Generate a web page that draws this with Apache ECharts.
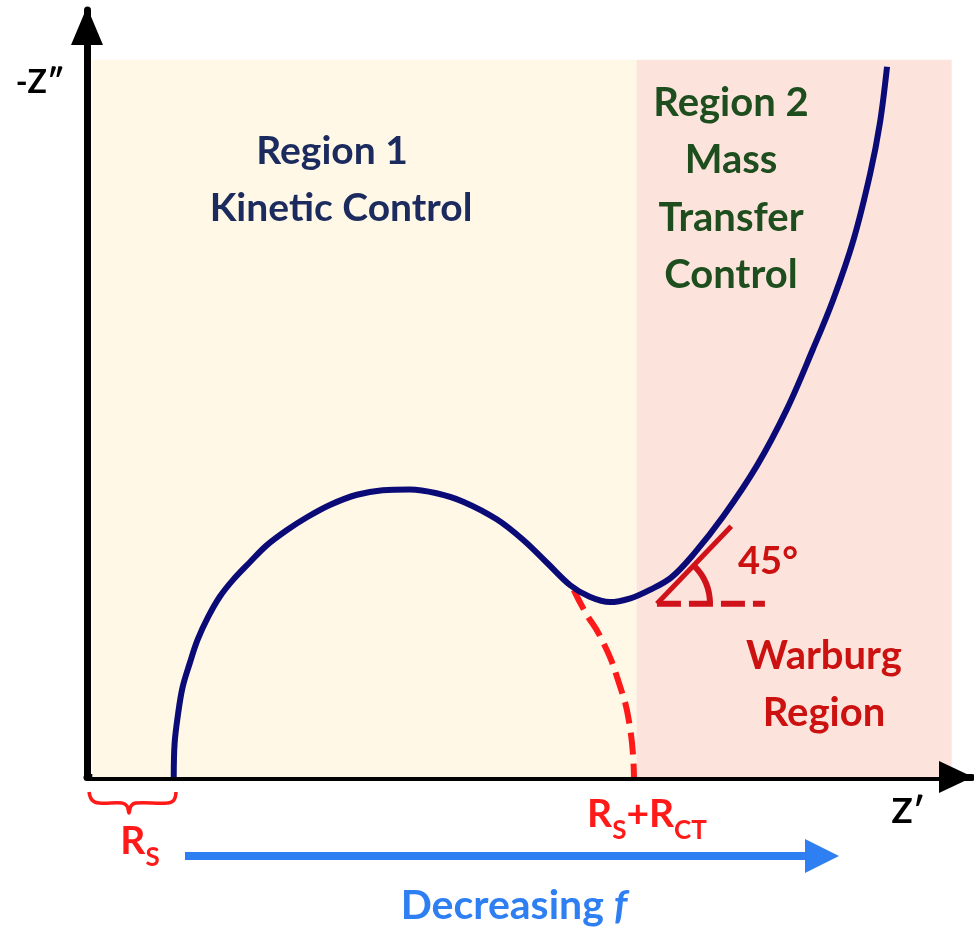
<!DOCTYPE html>
<html><head><meta charset="utf-8">
<script src="https://cdn.jsdelivr.net/npm/echarts@6/dist/echarts.min.js"></script>
<style>html,body{margin:0;padding:0;background:#fff}#c{width:974px;height:930px}</style>
</head><body><div id="c"></div>
<script>
// Nyquist curve (Z', -Z'') in arbitrary units
const curveZre = [9.8, 9.9, 10.3, 10.8, 11.6, 12.5, 13.7, 15.0, 16.5, 18.4, 20.3, 22.6, 24.9, 27.5, 30.5, 33.4, 36.5, 39.5, 42.5, 46.3, 49.3, 52.0, 54.6, 56.8, 59.1, 61.4, 63.6, 66.0, 68.5, 71.9, 75.7, 79.1, 82.0, 84.3, 86.6, 88.5, 89.6, 90.4];
const curveZim = [0.0, 4.4, 8.3, 11.7, 14.8, 17.9, 20.9, 23.5, 25.7, 28.0, 30.2, 32.2, 33.9, 35.5, 36.8, 37.4, 37.5, 37.0, 35.9, 33.6, 30.9, 27.9, 25.0, 23.5, 22.8, 23.3, 24.4, 26.0, 29.0, 34.0, 40.6, 48.0, 55.7, 62.2, 70.0, 78.7, 85.3, 92.6];
// extrapolated semicircle (dashed) down to Rs+Rct
const extrapZre = [55.0, 56.3, 58.0, 59.9, 61.4, 61.8];
const extrapZim = [24.4, 21.5, 18.3, 13.0, 6.1, 0.0];
// 45 degree tangent and horizontal reference
const tangentZre = [64.4, 72.8];
const tangentZim = [22.6, 32.7];
const refZre = [64.4, 76.6];
const refZim = [22.6, 22.6];
// regions
const region1 = [0.6, 62.1];
const region2 = [62.1, 97.7];
const regionTop = 93.5;
const region1Lines = ['Region 1', 'Kinetic Control'];
const region2Lines = ['Region 2', 'Mass', 'Transfer', 'Control'];
const warburgLines = ['Warburg', 'Region'];

const zip = (a, b) => a.map((v, i) => [v, b[i]]);
const FONT = 'Lato, "Open Sans", sans-serif';
const chart = echarts.init(document.getElementById('c'), null, {renderer: 'canvas'});

const gl = 87, gt = 10, gw = 885, gh = 767;
const axisStyle = {show: true, lineStyle: {color: '#000', width: 7}};

chart.setOption({
  animation: false,
  backgroundColor: '#ffffff',
  grid: {left: gl, top: gt, width: gw, height: gh},
  xAxis: {type: 'value', min: 0, max: 100, splitLine: {show: false}, axisTick: {show: false}, axisLabel: {show: false}, axisLine: axisStyle},
  yAxis: {type: 'value', min: 0, max: 100, splitLine: {show: false}, axisTick: {show: false}, axisLabel: {show: false}, axisLine: axisStyle},
  series: [
    {type: 'line', data: [], silent: true, z: 0,
      markArea: {silent: true, data: [
        [{coord: [region1[0], 0], itemStyle: {color: '#FFF8E7'}}, {coord: [region1[1], regionTop]}],
        [{coord: [region2[0], 0], itemStyle: {color: '#FCE4DC'}}, {coord: [region2[1], regionTop]}]
      ]}},
    {type: 'line', data: zip(extrapZre, extrapZim), smooth: true, symbol: 'none', z: 3,
      lineStyle: {color: '#FF1A1A', width: 6, type: [22, 9]}},
    {type: 'line', data: zip(tangentZre, tangentZim), symbol: 'none', z: 3,
      lineStyle: {color: '#D0121A', width: 5}},
    {type: 'line', data: zip(refZre, refZim), symbol: 'none', z: 3,
      lineStyle: {color: '#D0121A', width: 6, type: [24, 8]}},
    {type: 'line', data: zip(curveZre, curveZim), smooth: 0.35, symbol: 'none', z: 4,
      lineStyle: {color: '#0B0B78', width: 6}}
  ]
});

const vtx = chart.convertToPixel({gridIndex: 0}, [refZre[0], refZim[0]]);
const pOrg = chart.convertToPixel({gridIndex: 0}, [0, 0]);
const pTop = chart.convertToPixel({gridIndex: 0}, [0, 100]);
const pRight = chart.convertToPixel({gridIndex: 0}, [100, 0]);
const txt = (text, x, y, size, color) => ({type: 'text', z: 10, style: {text, x, y, font: `bold ${size}px ${FONT}`, fill: color, align: 'center', verticalAlign: 'middle'}});

const g = [];
// axis arrowheads
g.push({type: 'polygon', z: 6, shape: {points: [[pTop[0], pTop[1] - 3], [pTop[0] - 16, pTop[1] + 35], [pTop[0] + 16, pTop[1] + 35]]}, style: {fill: '#000'}});
g.push({type: 'polygon', z: 6, shape: {points: [[pRight[0] + 1, pRight[1]], [pRight[0] - 33, pRight[1] - 16], [pRight[0] - 33, pRight[1] + 16]]}, style: {fill: '#000'}});
g.push(txt(region1Lines[0], 332, 151, 39, '#1C2B5E'));
g.push(txt(region1Lines[1], 341, 208, 39, '#1C2B5E'));
region2Lines.forEach((t, i) => g.push(txt(t, 731, 103 + i * 57.5, 40, '#1E4E1E')));
warburgLines.forEach((t, i) => g.push(txt(t, 824, 656 + i * 57, 40, '#CC1111')));
g.push(txt('45°', 768, 562, 38, '#CC1111'));
g.push(txt('-Z″', 40, 83, 32, '#000'));
g.push(txt('Z′', 908, 812, 35, '#000'));
g.push({type: 'arc', z: 5, shape: {cx: vtx[0], cy: vtx[1], r: 53, startAngle: -Math.PI / 4, endAngle: 0}, style: {stroke: '#D0121A', lineWidth: 6, fill: null}});
// brace for Rs
g.push({type: 'polyline', z: 5, shape: {smooth: 0.4, points: [[pOrg[0] + 2, 792], [pOrg[0] + 5, 800], [pOrg[0] + 12, 803], [122, 803], [127, 806], [129, 813], [131, 806], [136, 803], [168, 803], [174, 800], [176, 792]]}, style: {stroke: '#FF1A1A', lineWidth: 3.5, fill: null}});
const subRich = {r: {font: `bold 39px ${FONT}`, fill: '#FF1A1A', verticalAlign: 'bottom', padding: [0, 0, 10, 0]}, s: {font: `bold 26px ${FONT}`, fill: '#FF1A1A', verticalAlign: 'bottom'}};
g.push({type: 'text', z: 10, style: {text: '{r|R}{s|S}', x: 140, y: 846, align: 'center', verticalAlign: 'middle', rich: subRich}});
g.push({type: 'text', z: 10, style: {text: '{r|R}{s|S}{r|+R}{s|CT}', x: 647, y: 819, align: 'center', verticalAlign: 'middle', rich: subRich}});
// decreasing frequency arrow
g.push({type: 'line', z: 5, shape: {x1: 185, y1: 856, x2: 815, y2: 856}, style: {stroke: '#2E7FF2', lineWidth: 8}});
g.push({type: 'polygon', z: 5, shape: {points: [[805, 839], [839, 856], [805, 873]]}, style: {fill: '#2E7FF2'}});
g.push({type: 'text', z: 10, style: {text: '{d|Decreasing }{f|f}', x: 514, y: 906, align: 'center', verticalAlign: 'middle',
  rich: {d: {font: `bold 41px ${FONT}`, fill: '#2E7FF2'}, f: {font: `italic bold 41px ${FONT}`, fill: '#2E7FF2'}}}});
chart.setOption({graphic: g});
</script></body></html>
